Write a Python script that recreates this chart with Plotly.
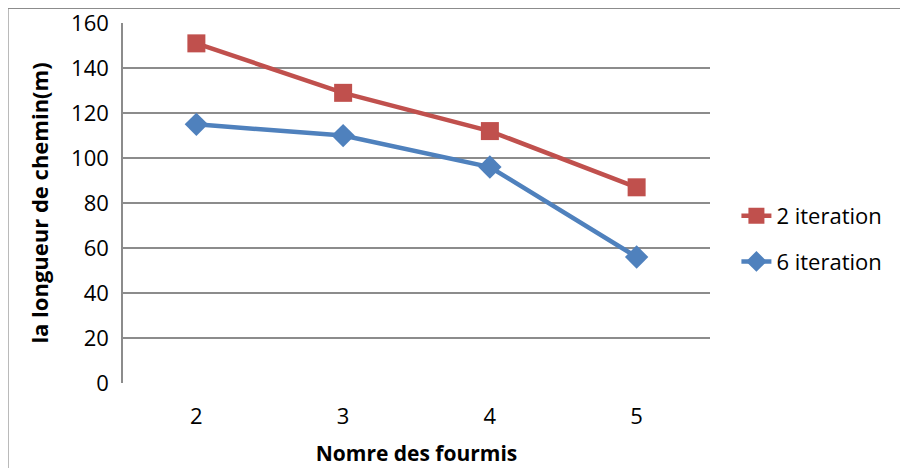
import plotly.graph_objects as go

categories = ["2", "3", "4", "5"]
iter2 = [151, 129, 112, 87]
iter6 = [115, 110, 96, 56]
y_ticks = [0, 20, 40, 60, 80, 100, 120, 140, 160]

FONT = "'Open Sans', sans-serif"

# page body has an 8px margin: figure is drawn at (8,8) inside the 908x468 window
W, H = 900, 460
L, T = 115, 15
R = W - 702
B = H - 375
PW, PH = W - L - R, H - T - B

fig = go.Figure()
fig.add_trace(go.Scatter(
    x=categories, y=iter2, name="2 iteration", mode="lines+markers",
    line=dict(color="#C0504D", width=4.5),
    marker=dict(symbol="square", size=18, color="#C0504D"),
    legendgroup="a",
))
fig.add_trace(go.Scatter(
    x=categories, y=iter6, name="6 iteration", mode="lines+markers",
    line=dict(color="#4F81BD", width=4.5),
    marker=dict(symbol="diamond", size=18, color="#4F81BD"),
    legendgroup="b",
))

fig.update_layout(
    width=W, height=H,
    margin=dict(l=L, r=R, t=T, b=B, autoexpand=False),
    paper_bgcolor="white", plot_bgcolor="white",
    font=dict(family=FONT, size=22, color="black"),
    showlegend=True,
    legend=dict(x=1.045, y=0.40, xanchor="left", yanchor="middle",
                font=dict(family=FONT, size=22, color="black"),
                traceorder="grouped", tracegroupgap=14,
                bgcolor="rgba(0,0,0,0)"),
    xaxis=dict(
        type="category", range=[-0.5, 3.5], automargin=False,
        showgrid=False, showline=False, zeroline=False,
        ticks="", ticklabelstandoff=18,
        tickfont=dict(family=FONT, size=22),
        title=dict(text="<b>Nomre des fourmis</b>", font=dict(family=FONT, size=21), standoff=17),
    ),
    yaxis=dict(
        range=[0, 160.05], tickvals=y_ticks, automargin=False,
        showgrid=True, gridcolor="#8C8C8C", gridwidth=1.5,
        showline=True, linecolor="#8C8C8C", linewidth=1.5,
        zeroline=False, ticks="", ticklabelstandoff=8,
        ticklabeloverflow="allow",
        tickfont=dict(family=FONT, size=22),
        title=dict(text="<b>la longueur de chemin(m)</b>", font=dict(family=FONT, size=22), standoff=16),
    ),
    shapes=[dict(type="rect", xref="paper", yref="paper",
                 x0=(0 - L) / PW, x1=3, y0=-3, y1=(PH + T - 0.5) / PH,
                 line=dict(color="#8C8C8C", width=1.2), layer="below")],
)

fig.write_html("out.html")
